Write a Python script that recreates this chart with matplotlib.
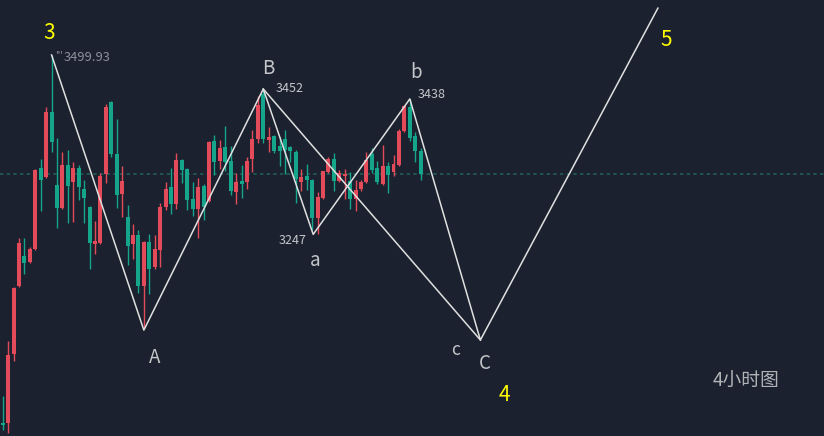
import matplotlib
matplotlib.use('Agg')
import matplotlib.pyplot as plt
import numpy as np

plt.rcParams['font.family'] = ['Noto Sans CJK SC', 'DejaVu Sans']

# 4小时K线 (开, 高, 低, 收)
opens = [2981, 2981, 3078, 3174, 3216, 3208, 3226, 3341, 3328, 3420,
         3317, 3284, 3345, 3321, 3341, 3311, 3286, 3233, 3235, 3332,
         3434, 3360, 3304, 3272, 3233, 3246, 3174, 3236, 3201, 3225,
         3286, 3314, 3290, 3352, 3339, 3297, 3283, 3315, 3294, 3379,
         3350, 3370, 3350, 3307, 3322, 3321, 3353, 3381, 3445, 3380,
         3386, 3372, 3381, 3370, 3363, 3321, 3329, 3324, 3270, 3298,
         3335, 3353, 3322, 3329, 3322, 3297, 3311, 3321, 3360, 3341,
         3318, 3343, 3335, 3345, 3393, 3427, 3386, 3365]
highs = [3019, 3097, 3173, 3242, 3242, 3229, 3339, 3353, 3427, 3500,
         3383, 3363, 3366, 3349, 3345, 3324, 3287, 3266, 3334, 3431,
         3435, 3410, 3343, 3288, 3262, 3253, 3237, 3248, 3246, 3291,
         3321, 3341, 3362, 3353, 3341, 3321, 3327, 3318, 3379, 3387,
         3380, 3400, 3372, 3334, 3345, 3356, 3394, 3442, 3452, 3398,
         3387, 3384, 3394, 3372, 3366, 3339, 3346, 3325, 3307, 3337,
         3356, 3362, 3338, 3339, 3335, 3324, 3324, 3363, 3369, 3350,
         3373, 3349, 3359, 3396, 3429, 3438, 3391, 3369]
lows = [2971, 2967, 3068, 3173, 3191, 3207, 3225, 3280, 3327, 3363,
        3256, 3283, 3263, 3264, 3296, 3263, 3198, 3219, 3233, 3319,
        3356, 3284, 3272, 3204, 3212, 3164, 3115, 3163, 3198, 3201,
        3281, 3276, 3283, 3319, 3281, 3273, 3242, 3267, 3293, 3331,
        3339, 3336, 3303, 3290, 3298, 3311, 3335, 3376, 3376, 3363,
        3362, 3343, 3332, 3349, 3291, 3308, 3310, 3253, 3247, 3297,
        3334, 3308, 3321, 3297, 3283, 3280, 3308, 3319, 3334, 3318,
        3317, 3305, 3329, 3343, 3391, 3379, 3349, 3324]
closes = [2978, 3077, 3171, 3235, 3207, 3226, 3338, 3324, 3420, 3377,
          3284, 3345, 3315, 3341, 3314, 3298, 3235, 3238, 3329, 3427,
          3360, 3303, 3322, 3231, 3246, 3174, 3236, 3198, 3226, 3286,
          3311, 3290, 3352, 3338, 3296, 3283, 3314, 3286, 3377, 3349,
          3369, 3349, 3308, 3321, 3318, 3350, 3381, 3429, 3381, 3384,
          3365, 3365, 3366, 3365, 3325, 3328, 3324, 3270, 3300, 3336,
          3353, 3322, 3334, 3332, 3297, 3310, 3321, 3352, 3338, 3321,
          3343, 3331, 3346, 3393, 3428, 3383, 3365, 3332]

# 波浪点
wave_x = [9, 26, 48, 57.2, 75, 88, 120.7]
wave_y = [3500, 3112, 3452, 3247, 3438, 3098, 3566]
wave_names = ['3', 'A', 'B', 'a', 'b', 'C', '5']

bg = '#1b212e'
up_color = '#e34a5a'
down_color = '#14a58a'
line_color = '#e0e0e0'
label_color = '#c4c6ca'
yellow = '#ffff00'

fig = plt.figure(figsize=(8.24, 4.36), dpi=100)
fig.patch.set_facecolor(bg)
ax = fig.add_axes([0, 0, 1, 1])
ax.set_facecolor(bg)

x = np.arange(len(opens))
o = np.array(opens)
c = np.array(closes)
cols = [up_color if cc >= oo else down_color for oo, cc in zip(o, c)]
bottoms = np.minimum(o, c)
heights = np.maximum(np.abs(c - o), 1.5)
ax.vlines(x, lows, highs, colors=cols, linewidth=1, zorder=2)
ax.bar(x, heights, bottom=bottoms, width=0.72, color=cols, linewidth=0, zorder=3)

# 当前价格线
ax.axhline(closes[-1], color='#1f5f58', linestyle=(0, (2, 2)), linewidth=1.2, zorder=1)

# 波浪线
ax.plot(wave_x, wave_y, color=line_color, linewidth=1.1, zorder=4)
ax.plot([wave_x[2], wave_x[5]], [wave_y[2], wave_y[5]], color=line_color, linewidth=1.1, zorder=4)

# 标签
offsets = {'3': (-2, 22), 'A': (11, -27), 'B': (5, 21), 'a': (2, -26),
           'b': (6, 26), 'C': (4, -23), '5': (8, -32)}
for wx, wy, name in zip(wave_x, wave_y, wave_names):
    color = yellow if name in ('3', '5') else label_color
    size = 15 if name in ('3', '5') else 13.5
    ax.annotate(name, (wx, wy), xytext=offsets[name], textcoords='offset pixels',
                ha='center', va='center', color=color, fontsize=size)
ax.annotate('c', (wave_x[5], wave_y[5]), xytext=(-25, -10), textcoords='offset pixels',
            ha='center', va='center', color=label_color, fontsize=12.5)
ax.annotate('4', (wave_x[5], wave_y[5]), xytext=(24, -55), textcoords='offset pixels',
            ha='center', va='center', color=yellow, fontsize=15)

# 价格标注
ax.annotate('3499.93', (wave_x[0], wave_y[0]), xytext=(12, -3), textcoords='offset pixels',
            ha='left', va='center', color='#8b909a', fontsize=9.3)
ax.annotate("'''", (wave_x[0], wave_y[0]), xytext=(4, -1), textcoords='offset pixels',
            ha='left', va='center', color='#8b909a', fontsize=7)
ax.annotate('3452', (wave_x[2], wave_y[2]), xytext=(12, 1), textcoords='offset pixels',
            ha='left', va='center', color=label_color, fontsize=9)
ax.annotate('3247', (wave_x[3], wave_y[3]), xytext=(-7, -6), textcoords='offset pixels',
            ha='right', va='center', color=label_color, fontsize=9)
ax.annotate('3438', (wave_x[4], wave_y[4]), xytext=(8, 4), textcoords='offset pixels',
            ha='left', va='center', color=label_color, fontsize=9)

ax.text(0.905, 0.126, '4小时图', transform=ax.transAxes, ha='center', va='center',
        color='#b0b2b6', fontsize=13.5)

ax.set_xlim(-0.5, 151.3)
ax.set_ylim(2962.7, 3577.5)
ax.axis('off')

fig.savefig('out.png', dpi=100, facecolor=bg)
